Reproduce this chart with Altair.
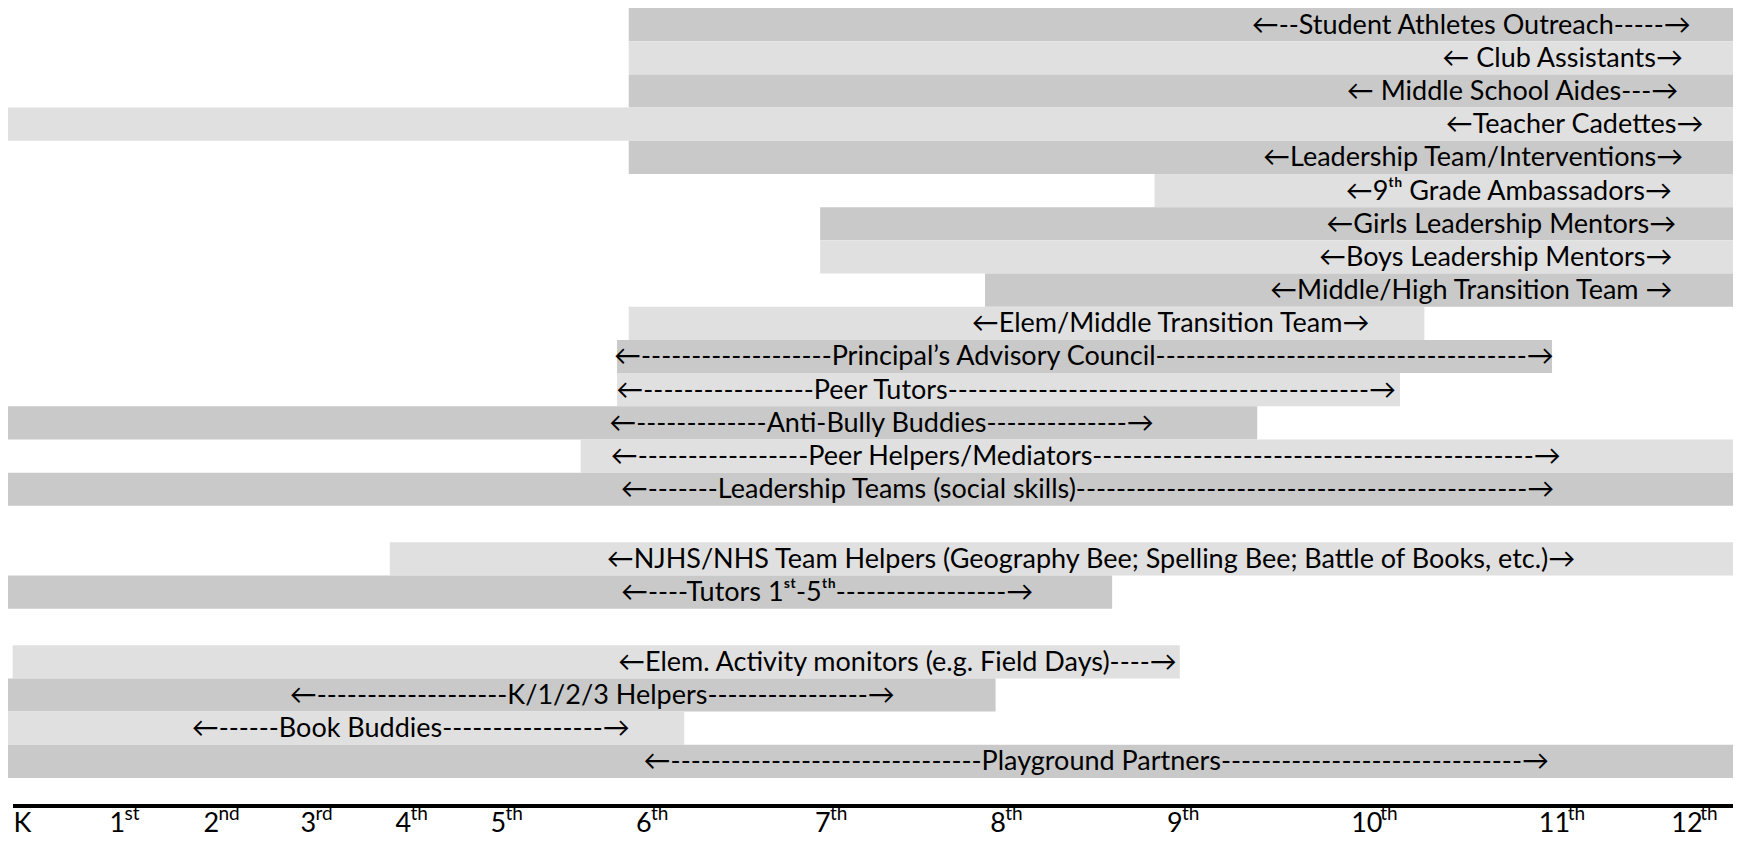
import altair as alt
import pandas as pd

# ---------------- data ----------------
programs = [
    "←--Student Athletes Outreach-----→",
    "← Club Assistants→",
    "← Middle School Aides---→",
    "←Teacher Cadettes→",
    "←Leadership Team/Interventions→",
    "←9ᵗʰ Grade Ambassadors→",
    "←Girls Leadership Mentors→",
    "←Boys Leadership Mentors→",
    "←Middle/High Transition Team →",
    "←Elem/Middle Transition Team→",
    "←" + "-" * 19 + "Principal’s Advisory Council" + "-" * 37 + "→",
    "←" + "-" * 17 + "Peer Tutors" + "-" * 42 + "→",
    "←" + "-" * 13 + "Anti-Bully Buddies" + "-" * 14 + "→",
    "←" + "-" * 17 + "Peer Helpers/Mediators" + "-" * 44 + "→",
    "←" + "-" * 7 + "Leadership Teams (social skills)" + "-" * 45 + "→",
    "←NJHS/NHS Team Helpers (Geography Bee; Spelling Bee; Battle of Books, etc.)→",
    "←" + "-" * 4 + "Tutors 1ˢᵗ-5ᵗʰ" + "-" * 17 + "→",
    "←Elem. Activity monitors (e.g. Field Days)----→",
    "←" + "-" * 19 + "K/1/2/3 Helpers" + "-" * 16 + "→",
    "←" + "-" * 6 + "Book Buddies" + "-" * 16 + "→",
    "←" + "-" * 31 + "Playground Partners" + "-" * 30 + "→",
]

# bar extent in grade units (K = 0 ... 12th = 12)
start_grade = [5.95, 5.95, 5.95, -0.06, 5.95, 8.93, 7.03, 7.03, 7.97, 5.95,
               5.87, 5.87, -0.06, 5.62, -0.06, 3.94, -0.06, -0.01, -0.06, -0.06, -0.06]
end_grade = [12.47, 12.47, 12.47, 12.47, 12.47, 12.47, 12.47, 12.47, 12.47, 10.39,
             11.10, 10.26, 9.49, 12.47, 12.47, 12.47, 8.69, 9.07, 8.03, 6.27, 12.47]
# row slot (top of the row), gaps between the groups
row_slot = [0, 1, 2, 3, 4, 5, 6, 7, 8, 9, 10, 11, 12, 13, 14,
            16.1, 17.1, 19.2, 20.2, 21.2, 22.2]
shade = ["dark", "light", "dark", "light", "dark", "light", "dark", "light", "dark",
         "light", "dark", "light", "dark", "light", "dark",
         "light", "dark", "light", "dark", "light", "dark"]
label_center = [10.64, 11.18, 10.86, 11.27, 10.65, 10.84, 10.80, 10.77, 10.64, 9.02,
                8.53, 8.09, 7.38, 8.54, 8.55, 8.57, 7.07, 7.47, 5.70, 4.16, 8.60]

grade_value = [0, 1, 2, 3, 4, 5, 6, 7, 8, 9, 10, 11, 12]
grade_base = ["K", "1", "2", "3", "4", "5", "6", "7", "8", "9", "10", "11", "12"]
grade_suffix = ["", "st", "nd", "rd", "th", "th", "th", "th", "th", "th", "th", "th", "th"]

# ---------------- tables ----------------
bars = pd.DataFrame({
    "program": programs,
    "start": start_grade,
    "end": end_grade,
    "slot": row_slot,
    "shade": shade,
    "label_x": label_center,
})
bars["slot_end"] = bars["slot"] + 1
bars["slot_mid"] = bars["slot"] + 0.5

grades = pd.DataFrame({"g": grade_value, "base": grade_base, "suffix": grade_suffix})
grades["digits"] = grades["base"].str.len()

FONT = "Lato"

xscale = alt.Scale(
    domain=grade_value,
    range=[5.6, 101.6, 195.4, 292.5, 387.5, 482.4, 628.0, 806.9, 982.3,
           1158.9, 1343.2, 1530.8, 1663.3],
)
yscale = alt.Scale(domain=[0, 23.2], range=[0, 770])

base_bars = alt.Chart(bars)

rects = base_bars.mark_rect().encode(
    x=alt.X("start:Q", scale=xscale, axis=None),
    x2="end:Q",
    y=alt.Y("slot:Q", scale=yscale, axis=None),
    y2="slot_end:Q",
    color=alt.Color("shade:N",
                    scale=alt.Scale(domain=["dark", "light"], range=["#c9c9c9", "#e0e0e0"]),
                    legend=None),
)

texts = base_bars.mark_text(
    font=FONT, fontSize=27, color="#000000", align="center", baseline="middle", dy=1
).encode(
    x=alt.X("label_x:Q", scale=xscale, axis=None),
    y=alt.Y("slot_mid:Q", scale=yscale, axis=None),
    text="program:N",
)

axis_line = alt.Chart(grades).mark_rule(color="#000000", strokeWidth=3).encode(
    x=alt.value(5), x2=alt.value(1725), y=alt.value(798)
)

gbase = alt.Chart(grades)
tick_base = gbase.mark_text(
    font=FONT, fontSize=27, color="#000000", align="left", baseline="alphabetic"
).encode(
    x=alt.X("g:Q", scale=xscale, axis=None),
    y=alt.value(824),
    text="base:N",
)
suffix1 = gbase.transform_filter("datum.digits == 1").mark_text(
    font=FONT, fontSize=19, color="#000000", align="left", baseline="alphabetic", dx=15
).encode(
    x=alt.X("g:Q", scale=xscale, axis=None),
    y=alt.value(812),
    text="suffix:N",
)
suffix2 = gbase.transform_filter("datum.digits == 2").mark_text(
    font=FONT, fontSize=19, color="#000000", align="left", baseline="alphabetic", dx=29
).encode(
    x=alt.X("g:Q", scale=xscale, axis=None),
    y=alt.value(812),
    text="suffix:N",
)

chart = alt.layer(rects, texts, axis_line, tick_base, suffix1, suffix2).properties(
    width=1725,
    height=831,
    padding=0,
    autosize=alt.AutoSizeParams(type="none"),
    background="#ffffff",
).configure_view(stroke=None)

chart.save("out.html", embed_options={"renderer": "svg", "actions": False})
